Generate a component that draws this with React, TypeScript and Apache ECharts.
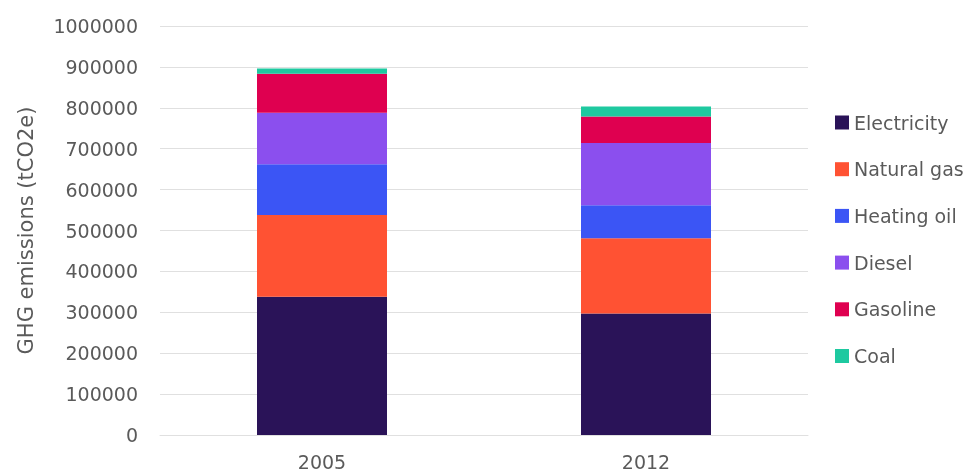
import React, { useEffect, useRef } from "react";
import * as echarts from "echarts";

const categories = ["2005", "2012"];
const seriesNames = ["Electricity", "Natural gas", "Heating oil", "Diesel", "Gasoline", "Coal"];
const electricity = [338000, 297000];
const naturalGas = [200000, 184000];
const heatingOil = [124000, 81000];
const diesel = [126000, 152000];
const gasoline = [95000, 65000];
const coal = [13000, 24000];
const colors = ["#2a1358", "#ff5233", "#3b55f5", "#8b4fee", "#df0050", "#1ec9a0"];

export default function App() {
  const ref = useRef<HTMLDivElement>(null);
  useEffect(() => {
    if (!ref.current) return;
    const chart = echarts.init(ref.current, null, { renderer: "svg" });
    const values = [electricity, naturalGas, heatingOil, diesel, gasoline, coal];
    const font = "'DejaVu Sans', sans-serif";
    const textColor = "#5a5a5a";
    chart.setOption({
      animation: false,
      textStyle: { fontFamily: font },
      grid: { left: 160, right: 158, top: 26, bottom: 37 },
      legend: {
        orient: "vertical",
        left: 830,
        top: 108,
        itemWidth: 14,
        itemHeight: 14,
        itemGap: 27.7,
        icon: "rect",
        textStyle: { color: textColor, fontSize: 19, fontFamily: font },
        data: seriesNames,
      },
      xAxis: {
        type: "category",
        data: categories,
        axisLine: { lineStyle: { color: "#e0e0e0" } },
        axisTick: { show: false },
        axisLabel: { color: textColor, fontSize: 19, margin: 17 },
      },
      yAxis: {
        type: "value",
        min: 0,
        max: 1000000,
        interval: 100000,
        name: "GHG emissions (tCO2e)",
        nameLocation: "middle",
        nameGap: 124,
        nameRotate: 90,
        nameTextStyle: { color: textColor, fontSize: 21 },
        axisLabel: {
          color: textColor,
          fontSize: 19,
          margin: 22,
          formatter: (v: number) => String(v),
        },
        axisLine: { show: false },
        axisTick: { show: false },
        splitLine: { lineStyle: { color: "#e0e0e0" } },
      },
      series: seriesNames.map((name, i) => ({
        name,
        type: "bar",
        stack: "total",
        barWidth: 130,
        data: values[i],
        itemStyle: { color: colors[i] },
      })),
    });
    return () => chart.dispose();
  }, []);
  return (
    <div
      ref={ref}
      style={{ position: "fixed", left: 0, top: 0, width: 966, height: 472 }}
    />
  );
}
